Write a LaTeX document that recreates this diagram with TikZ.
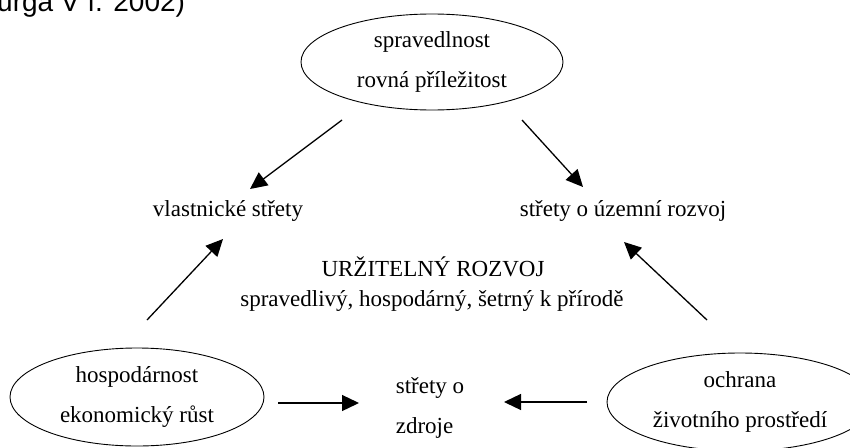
\documentclass[tikz,border=0pt]{standalone}
\usepackage{fontspec}
\setmainfont{Liberation Serif}
\newfontfamily\captionfont{Liberation Sans}
\usetikzlibrary{arrows.meta}
\begin{document}
\begin{tikzpicture}[x=1pt,y=-1pt,
  lbl/.style={font=\fontsize{23}{40}\selectfont, align=center, inner sep=0pt},
  ell/.style={draw, line width=0.9pt},
  arr/.style={line width=1.3pt, -{Triangle[length=17pt,width=16pt]}}]
\useasboundingbox (0,0) rectangle (850,447);
% caption fragment
\node[font=\captionfont\fontsize{28}{30}\selectfont, anchor=base west, inner sep=0pt] (cap) at (-3,12) {urga V í. 2002)};
% ellipses
\draw[ell] (432,62) ellipse [x radius=131, y radius=48];
\node[lbl] (top) at (432,62) {spravedlnost\\rovná příležitost};
\draw[ell] (137,397) ellipse [x radius=127, y radius=49];
\node[lbl] (left) at (137,397) {hospodárnost\\ekonomický růst};
\draw[ell] (740,402) ellipse [x radius=133, y radius=49];
\node[lbl] (right) at (740,402) {ochrana\\životního prostředí};
% texts
\node[lbl] (vl) at (228,211) {vlastnické střety};
\node[lbl] (uz) at (623,211) {střety o územní rozvoj};
\node[lbl] (ur) at (433,267) {URŽITELNÝ ROZVOJ};
\node[lbl] (sp) at (432,301) {spravedlivý, hospodárný, šetrný k přírodě};
\node[lbl, align=left] (zd) at (430,408) {střety o\\zdroje};
% arrow anchor coordinates
\coordinate (a1s) at (342,120); \coordinate (a1e) at (250,189);
\coordinate (a2s) at (522,120); \coordinate (a2e) at (583,187);
\coordinate (a3s) at (147,320); \coordinate (a3e) at (223,239);
\coordinate (a4s) at (707,320); \coordinate (a4e) at (624,242);
\coordinate (a5s) at (278,403); \coordinate (a5e) at (359,403);
\coordinate (a6s) at (587,402); \coordinate (a6e) at (504,402);
\draw[arr] (a1s) -- (a1e);
\draw[arr] (a2s) -- (a2e);
\draw[arr] (a3s) -- (a3e);
\draw[arr] (a4s) -- (a4e);
\draw[arr] (a5s) -- (a5e);
\draw[arr] (a6s) -- (a6e);
\end{tikzpicture}
\end{document}
